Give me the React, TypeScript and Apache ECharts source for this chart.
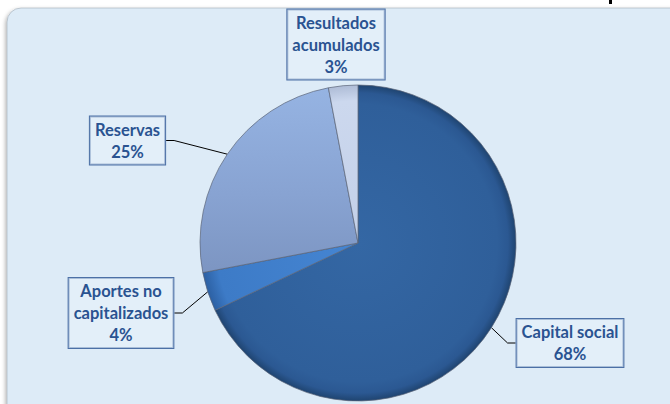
import React, { useEffect, useRef } from "react";
import * as echarts from "echarts";

const categories = ["Capital social", "Aportes no\ncapitalizados", "Reservas", "Resultados\nacumulados"];
const values = [68, 4, 25, 3];
const showLeader = [true, true, true, false];

const CX = 358;
const CY = 243;
const R = 158;

// label box centres (layout only)
const labelCenters: [number, number][] = [
  [570, 343],
  [121, 313],
  [127.5, 140.5],
  [336, 44.5],
];

const radial = (stops: [number, string][]) => ({
  type: "radial",
  x: CX,
  y: CY,
  r: R,
  global: true,
  colorStops: stops.map(([offset, color]) => ({ offset, color })),
});

const sliceColors: any[] = [
  radial([
    [0, "#3467A4"],
    [0.88, "#2F5F9A"],
    [0.95, "#2B5892"],
    [1, "#1F4470"],
  ]),
  radial([
    [0, "#4585D2"],
    [0.9, "#3D7BC7"],
    [1, "#2C60A3"],
  ]),
  {
    type: "linear",
    x: 0,
    y: CY - R,
    x2: 0,
    y2: CY + 60,
    global: true,
    colorStops: [
      { offset: 0, color: "#96B4E3" },
      { offset: 0.5, color: "#88A3D2" },
      { offset: 1, color: "#7890BC" },
    ],
  },
  radial([
    [0, "#C3D0E8"],
    [0.9, "#CCD8EE"],
    [1, "#AEBCD6"],
  ]),
];

export default function App() {
  const ref = useRef<HTMLDivElement>(null);
  useEffect(() => {
    document.body.style.margin = "0";
    const chart = echarts.init(ref.current!, null, { renderer: "svg" });
    const option: any = {
      animation: false,
      graphic: [
        {
          type: "rect",
          z: -10,
          shape: { x: 7, y: 8, width: 690, height: 430, r: 14 },
          style: {
            fill: "#DDEBF7",
            stroke: "rgba(150,160,170,0.5)",
            lineWidth: 1,
            shadowColor: "rgba(0,0,0,0.35)",
            shadowBlur: 4,
            shadowOffsetX: -1,
            shadowOffsetY: 2,
          },
        },
        {
          type: "rect",
          z: -9,
          shape: { x: 609, y: 0, width: 3, height: 4 },
          style: { fill: "#000" },
        },
      ],
      series: [
        {
          type: "pie",
          center: [CX, CY],
          radius: R,
          startAngle: 90,
          clockwise: true,
          avoidLabelOverlap: false,
          data: categories.map((name, i) => ({
            name,
            value: values[i],
            itemStyle: { color: sliceColors[i] },
            labelLine: { show: showLeader[i] },
          })),
          itemStyle: {
            borderColor: "rgba(90,100,120,0.7)",
            borderWidth: 1,
          },
          emphasis: { disabled: true },
          label: {
            show: true,
            position: "outside",
            formatter: (p: any) => `${p.name}\n${Math.round(p.percent)}%`,
            fontFamily: "Lato, sans-serif",
            fontWeight: "bold",
            fontSize: 16.5,
            lineHeight: 22,
            color: "#2A5391",
            align: "center",
            backgroundColor: "rgba(232,241,250,0.6)",
            borderColor: "#4C70A6",
            borderWidth: 1,
            padding: [2, 5, 2, 5],
          },
          labelLine: {
            show: true,
            length: 10,
            length2: 8,
            lineStyle: { color: "#000", width: 1 },
          },
          labelLayout: (params: any) => {
            const c = labelCenters[params.dataIndex];
            return {
              x: c[0],
              y: c[1],
              align: "center",
              verticalAlign: "middle",
            };
          },
        },
      ],
    };
    chart.setOption(option);
    return () => chart.dispose();
  }, []);
  return (
    <div
      ref={ref}
      style={{ position: "absolute", left: 0, top: 0, width: 670, height: 404, background: "#fff" }}
    />
  );
}
